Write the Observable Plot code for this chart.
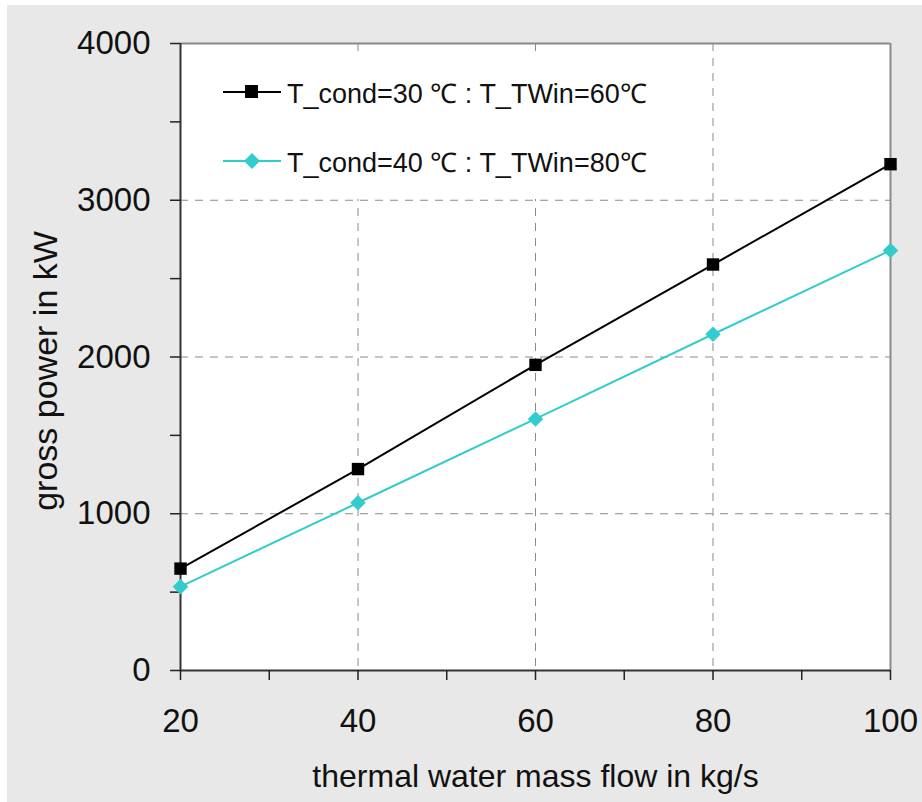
<!DOCTYPE html>
<html>
<head>
<meta charset="utf-8">
<script src="https://cdn.jsdelivr.net/npm/d3@7"></script>
<script src="https://cdn.jsdelivr.net/npm/@observablehq/plot@0.6"></script>
<style>
  html, body { margin: 0; padding: 0; background: #ffffff; }
  #page { position: absolute; left: 7px; top: 5px; width: 915px; height: 797px; background: #e8e8e8; }
  #chart svg { display: block; }
  #legend { position: absolute; left: 175px; top: 47px; width: 490px; height: 147px; background: #ffffff;
            font-family: "Liberation Sans", Arial, sans-serif; font-size: 27px; color: #111; }
  .row { position: absolute; left: 0; height: 30px; display: flex; align-items: center; white-space: pre; }
  .row svg { display: block; margin-left: 41px; margin-right: 6px; }
</style>
</head>
<body>
<div id="page">
  <div id="chart"></div>
  <div id="legend"></div>
</div>
<script>
// Gross power output against thermal water mass flow, two operating cases
const flows = [20, 40, 60, 80, 100];              // kg/s
const powerCase1 = [650, 1285, 1950, 2590, 3230]; // kW, T_cond=30 °C, T_TWin=60 °C
const powerCase2 = [535, 1070, 1605, 2145, 2680]; // kW, T_cond=40 °C, T_TWin=80 °C
const seriesNames = ["T_cond=30 ℃ : T_TWin=60℃", "T_cond=40 ℃ : T_TWin=80℃"];
const seriesColors = ["#000000", "#33cccc"];
const seriesSymbols = ["square", "diamond2"];

const xTicks = [20, 40, 60, 80, 100];
const xMinorTicks = [30, 50, 70, 90];
const xGrid = [40, 60, 80];
const yTicks = [0, 1000, 2000, 3000, 4000];
const yMinorTicks = [500, 1500, 2500, 3500];
const yGrid = [1000, 2000, 3000];

const xLabel = "thermal water mass flow in kg/s";
const yLabel = "gross power in kW";

const rows = [];
[powerCase1, powerCase2].forEach((vals, i) =>
  flows.forEach((f, j) => rows.push({flow: f, power: vals[j], series: seriesNames[i]}))
);

const font = "'Liberation Sans', Arial, sans-serif";
const gridStyle = {stroke: "#8a8a8a", strokeOpacity: 1, strokeWidth: 1, strokeDasharray: "8,7"};
const plain = (d) => String(d);

const chart = Plot.plot({
  width: 915,
  height: 797,
  marginLeft: 173,
  marginRight: 32,
  marginTop: 38,
  marginBottom: 132,
  style: {background: "transparent", fontFamily: font, color: "#111"},
  x: {domain: [20, 100]},
  y: {domain: [0, 4000]},
  color: {domain: seriesNames, range: seriesColors},
  symbol: {domain: seriesNames, range: seriesSymbols},
  marks: [
    Plot.frame({fill: "#ffffff", stroke: "none"}),
    Plot.gridX(xGrid, gridStyle),
    Plot.gridY(yGrid, gridStyle),
    // plot box: dark left/bottom spines, grey top/right
    Plot.ruleX([100], {stroke: "#8a8a8a", strokeWidth: 2}),
    Plot.ruleY([4000], {stroke: "#8a8a8a", strokeWidth: 2}),
    Plot.ruleX([20], {stroke: "#333", strokeWidth: 2}),
    Plot.ruleY([0], {stroke: "#333", strokeWidth: 2}),
    Plot.axisX({ticks: xTicks, tickFormat: plain, tickSize: 10, tickPadding: 28, fontSize: 33, stroke: "#222", strokeWidth: 1.5, label: null}),
    Plot.axisX({ticks: xMinorTicks, tickFormat: () => "", tickSize: 10, stroke: "#222", strokeWidth: 1.5, label: null}),
    Plot.axisY({ticks: yTicks, tickFormat: plain, tickSize: 10, tickPadding: 20, fontSize: 33, stroke: "#222", strokeWidth: 1.5, label: null}),
    Plot.axisY({ticks: yMinorTicks, tickFormat: () => "", tickSize: 10, stroke: "#222", strokeWidth: 1.5, label: null}),
    Plot.text([xLabel], {frameAnchor: "bottom", dy: 106, fontSize: 32, textAnchor: "middle", lineAnchor: "middle", fill: "#111"}),
    Plot.text([yLabel], {frameAnchor: "left", dx: -134, dy: 14, rotate: -90, fontSize: 34, textAnchor: "middle", lineAnchor: "middle", fill: "#111"}),
    Plot.line(rows, {x: "flow", y: "power", z: "series", stroke: "series", strokeWidth: 2}),
    Plot.dot(rows, {x: "flow", y: "power", fill: "series", symbol: "series", r: 7, stroke: "none"})
  ]
});
document.getElementById("chart").append(chart);

// Legend drawn over the plot area with a white backing box
const legend = document.getElementById("legend");
const sym = {
  square: () => '<rect x="22" y="8" width="13" height="13"/>',
  diamond2: () => '<path d="M29,7 L37,15 L29,23 L21,15 Z"/>'
};
seriesNames.forEach((name, i) => {
  const row = document.createElement("div");
  row.className = "row";
  row.style.top = (25 + i * 69) + "px";
  row.innerHTML =
    `<svg width="58" height="30"><g fill="${seriesColors[i]}" stroke="none">` +
    `<line x1="0" y1="15" x2="58" y2="15" stroke="${seriesColors[i]}" stroke-width="2"/>` +
    sym[seriesSymbols[i]]() + `</g></svg><span>${name}</span>`;
  legend.append(row);
});
</script>
</body>
</html>
